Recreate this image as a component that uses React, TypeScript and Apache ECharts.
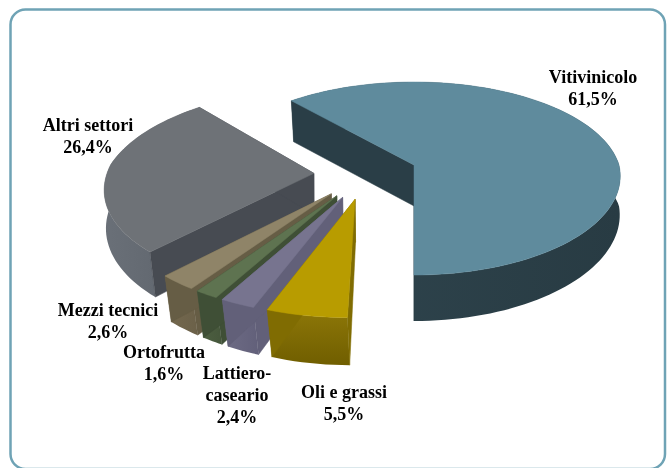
import React, { useEffect, useRef } from "react";
import * as echarts from "echarts";

const categories = ["Vitivinicolo", "Oli e grassi", "Lattiero-\ncaseario", "Ortofrutta", "Mezzi tecnici", "Altri settori"];
const values = [61.5, 5.5, 2.4, 1.6, 2.6, 26.4];
const valueLabels = ["61,5%", "5,5%", "2,4%", "1,6%", "2,6%", "26,4%"];
const topColors = ["#5f8b9d", "#b89c00", "#77748f", "#5e7350", "#8f8468", "#6e7277"];
const outerColors = [["#2f454e", "#283b43"], ["#8d7708", "#705e00"], ["#6e6c85", "#62607a"], ["#4e6042", "#46573b"], ["#75694f", "#6b6149"], ["#6a7078", "#5c626a"]];
const innerColors = ["#2a3e47", "#806c02", "#626079", "#3f4f36", "#665d45", "#474b52"];

const labelXY = [[593, 66], [344, 381], [237, 362], [164, 341], [108, 299], [88, 114]];
const drawOrder = [0, 5, 4, 3, 2, 1];

const FONT = '"Liberation Serif", serif';
const CX = 414, CY = 165, SX = 205, EXPLODE = 0.25, LEAN = 0.025;

const rad = (d: number) => (d * Math.PI) / 180;
const project = (u: number, v: number) => {
  const sx = 1 / (1 - (v > 0 ? 0.11 : 0.14) * v);
  const y = v > 0 ? (99 * v) / (1 - 0.1 * v) : (94.6 * v) / (1 - 0.14 * v);
  return [CX + SX * u * sx, CY + y];
};
const depth = (v: number) => 41 + 5 * Math.max(0, v);

// angles run clockwise from the top of the pie; the first slice ends straight down
const total = values.reduce((a, b) => a + b, 0);
const spans = values.map((v) => (v / total) * 360);
const starts: number[] = [];
{
  let a = 180 - spans[0];
  spans.forEach((s) => {
    starts.push(a);
    a += s;
  });
}
const dir = (deg: number) => [Math.sin(rad(deg)), -Math.cos(rad(deg))];
const m0 = dir(starts[0] + spans[0] / 2);
const centre = [-EXPLODE * m0[0], -EXPLODE * m0[1]];

function sliceGeometry(i: number) {
  const m = dir(starts[i] + spans[i] / 2);
  const ax = centre[0] + EXPLODE * m[0];
  const ay = centre[1] + EXPLODE * m[1];
  const arc: number[][] = [];
  const steps = Math.max(6, Math.ceil(spans[i] / 2));
  for (let k = 0; k <= steps; k++) {
    const d = dir(starts[i] + (spans[i] * k) / steps);
    arc.push([ax + d[0], ay + d[1]]);
  }
  return { apex: [ax, ay], arc };
}
const down = (w: number[]) => {
  const p = project(w[0], w[1]);
  return [p[0] + (CX - p[0]) * LEAN * Math.abs(w[1]), p[1] + depth(w[1])];
};
const up = (w: number[]) => project(w[0], w[1]);
const wall = (a: number[], b: number[]) => [up(a), up(b), down(b), down(a)];

export default function App() {
  const ref = useRef<HTMLDivElement>(null);
  useEffect(() => {
    const chart = echarts.init(ref.current!, null, { renderer: "svg" });
    const poly = (points: number[][], fill: any) => ({
      type: "polygon",
      shape: { points },
      style: { fill, stroke: typeof fill === "string" ? fill : "none", lineWidth: 0.5 },
    });
    chart.setOption({
      animation: false,
      graphic: [
        {
          type: "rect",
          shape: { x: 10.5, y: 9.5, width: 654.5, height: 459.5, r: 15 },
          style: { fill: "#ffffff", stroke: "#6fa3b5", lineWidth: 2.5 },
          z: 0,
        },
      ],
      series: [
        {
          type: "custom",
          coordinateSystem: "none",
          z: 2,
          data: drawOrder.map((i) => [i, values[i]]),
          renderItem: (params: any, api: any) => {
            const i = api.value(0) as number;
            const { apex, arc } = sliceGeometry(i);
            const outerFill = {
              type: "linear",
              x: 0,
              y: 0,
              x2: i === 1 ? 0 : 1,
              y2: i === 1 ? 1 : 0,
              colorStops: [
                { offset: 0, color: outerColors[i][0] },
                { offset: 1, color: outerColors[i][1] },
              ],
            };
            const outer = [...arc.map(up), ...arc.slice().reverse().map(down)];
            const children: any[] = [
              poly(outer, outerFill),
              poly(wall(apex, arc[0]), innerColors[i]),
              poly(wall(apex, arc[arc.length - 1]), innerColors[i]),
              poly([up(apex), ...arc.map(up)], topColors[i]),
            ];
            return { type: "group", children };
          },
        },
        {
          type: "custom",
          coordinateSystem: "none",
          z: 3,
          data: categories.map((c, i) => [i]),
          renderItem: (params: any, api: any) => {
            const i = api.value(0) as number;
            const [lx, ly] = labelXY[i];
            return {
              type: "text",
              x: lx,
              y: ly,
              style: {
                text: categories[i] + "\n" + valueLabels[i],
                fill: "#000",
                font: `bold 18px ${FONT}`,
                lineHeight: 22,
                align: "center",
                verticalAlign: "top",
              },
            };
          },
        },
      ],
    });
    return () => chart.dispose();
  }, []);
  return <div ref={ref} style={{ position: "fixed", left: 0, top: 0, width: 671, height: 468 }} />;
}
